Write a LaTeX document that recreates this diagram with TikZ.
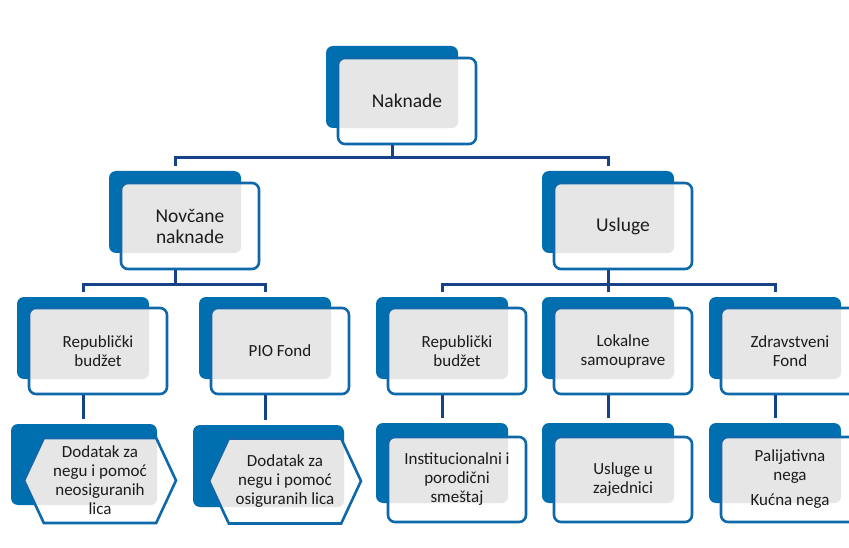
\documentclass[tikz,border=0pt]{standalone}
\usepackage{fontspec}
\setmainfont{Carlito}
\usetikzlibrary{positioning,shapes.symbols}

\definecolor{backblue}{RGB}{0,111,176}
\definecolor{lineblue}{RGB}{14,104,170}
\definecolor{connblue}{RGB}{22,66,135}
\definecolor{boxgray}{RGB}{230,230,230}
\definecolor{txtgray}{RGB}{28,28,28}

\tikzset{
  back/.style={fill=backblue, rounded corners=7pt, minimum width=132pt, minimum height=82pt, inner sep=0pt},
  front/.style={draw=lineblue, line width=2.6pt, fill=white, rounded corners=7pt,
    minimum width=138pt, minimum height=86pt, inner sep=0pt, align=center, text=txtgray,
    font=\fontsize{17}{19}\selectfont,
    path picture={\fill[boxgray, rounded corners=7pt] (#1.north west) rectangle (#1.south east);}},
  hexa/.style={front=#1, shape=signal, signal to=west and east, signal pointer angle=130,
    rounded corners=0pt, minimum width=152pt, minimum height=85pt},
  bigtext/.style={font=\fontsize{19.5}{21}\selectfont},
  conn/.style={draw=connblue, line width=3pt}
}

\begin{document}
\begin{tikzpicture}[x=1pt,y=-1pt]
\useasboundingbox[fill=white] (0,0) rectangle (849,548);

% top
\node[back] (naknadeB) at (392,87) {};
\node[front=naknadeB, bigtext] (naknade) at (407,101) {Naknade};

% second row
\node[back] (novcaneB) at (175,212) {};
\node[front=novcaneB, bigtext] (novcane) at (190,226) {Novčane\\naknade};
\node[back] (uslugeB) at (608,212) {};
\node[front=uslugeB, bigtext] (usluge) at (623,226) {Usluge};

% third row
\node[back] (rbaB) at (83,338) {};
\node[front=rbaB] (rba) at (98,351) {Republički\\budžet};
\node[back] (pioB) at (265,338) {};
\node[front=pioB] (pio) at (280,351) {PIO Fond};
\node[back] (rbbB) at (442,338) {};
\node[front=rbbB] (rbb) at (457,351) {Republički\\budžet};
\node[back] (lokB) at (608,338) {};
\node[front=lokB] (lok) at (623,351) {Lokalne\\samouprave};
\node[back] (zdrB) at (775,338) {};
\node[front=zdrB] (zdr) at (790,351) {Zdravstveni\\Fond};

% fourth row
\node[back, minimum width=146pt, minimum height=81pt] (dodaB) at (84,464.5) {};
\node[hexa=dodaB] (doda) at (100,480.5) {Dodatak za\\negu i pomoć\\neosiguranih\\lica};
\node[back, minimum width=151pt] (dodbB) at (268.5,466) {};
\node[hexa=dodbB] (dodb) at (285,481) {Dodatak za\\negu i pomoć\\osiguranih lica};
\node[back, minimum height=80pt] (instB) at (442,463) {};
\node[front=instB, minimum height=85pt] (inst) at (457,479.5) {Institucionalni i\\porodični\\smeštaj};
\node[back, minimum height=80pt] (zajB) at (608,463) {};
\node[front=zajB, minimum height=85pt] (zaj) at (623,479.5) {Usluge u\\zajednici};
\node[back, minimum height=80pt] (palB) at (775,463) {};
\node[front=palB, minimum height=85pt] (pal) at (790,479.5) {Palijativna\\nega\\[6pt]Kućna nega};

% connectors
\draw[conn, shorten >=5pt] (naknadeB.south |- naknade.south) -- ++(0,12) -| (novcaneB.north);
\draw[conn, shorten >=5pt] (naknadeB.south |- naknade.south) -- ++(0,12) -| (uslugeB.north);
\draw[conn, shorten >=5pt] (novcaneB.south |- novcane.south) -- ++(0,14) -| (rbaB.north);
\draw[conn, shorten >=5pt] (novcaneB.south |- novcane.south) -- ++(0,14) -| (pioB.north);
\draw[conn, shorten >=5pt] (uslugeB.south |- usluge.south) -- ++(0,14) -| (rbbB.north);
\draw[conn, shorten >=5pt] (uslugeB.south |- usluge.south) -- ++(0,14) -| (lokB.north);
\draw[conn, shorten >=5pt] (uslugeB.south |- usluge.south) -- ++(0,14) -| (zdrB.north);
\draw[conn, shorten >=5pt] (rbaB.south |- rba.south) -- (rbaB.south |- dodaB.north);
\draw[conn, shorten >=5pt] (pioB.south |- pio.south) -- (pioB.south |- dodbB.north);
\draw[conn, shorten >=5pt] (rbbB.south |- rbb.south) -- (instB.north);
\draw[conn, shorten >=5pt] (lokB.south |- lok.south) -- (zajB.north);
\draw[conn, shorten >=5pt] (zdrB.south |- zdr.south) -- (palB.north);

\end{tikzpicture}
\end{document}
